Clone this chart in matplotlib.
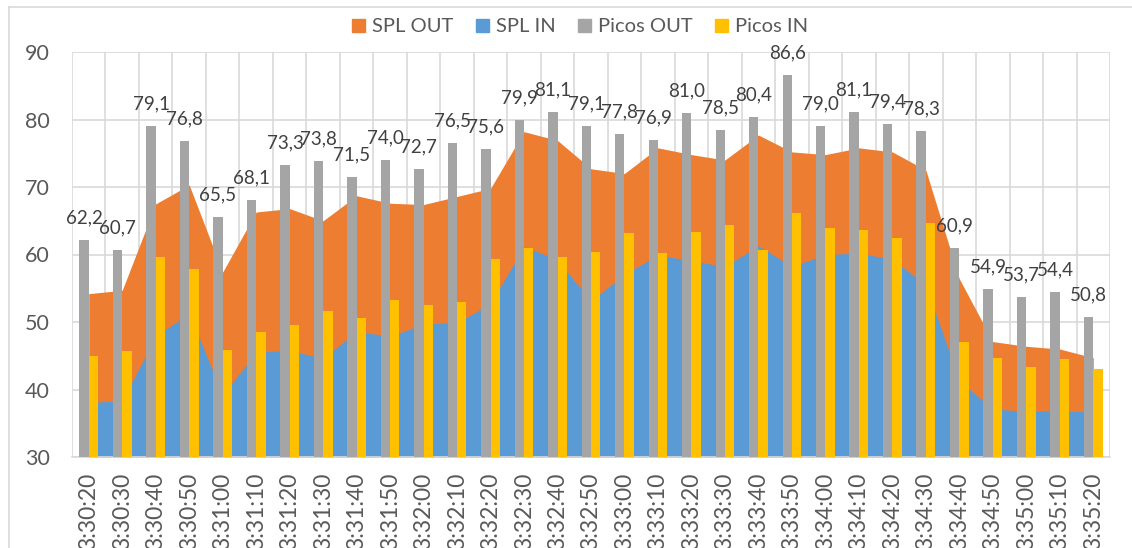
import numpy as np
import matplotlib
matplotlib.use("Agg")
from matplotlib import pyplot as plt
from matplotlib.patches import Patch
from matplotlib.lines import Line2D

plt.rcParams['font.family'] = ['Lato', 'DejaVu Sans']

times = ["3:30:20", "3:30:30", "3:30:40", "3:30:50", "3:31:00", "3:31:10", "3:31:20",
         "3:31:30", "3:31:40", "3:31:50", "3:32:00", "3:32:10", "3:32:20", "3:32:30",
         "3:32:40", "3:32:50", "3:33:00", "3:33:10", "3:33:20", "3:33:30", "3:33:40",
         "3:33:50", "3:34:00", "3:34:10", "3:34:20", "3:34:30", "3:34:40", "3:34:50",
         "3:35:00", "3:35:10", "3:35:20"]

spl_out = [54.2, 54.7, 67.5, 70.3, 57.4, 66.3, 66.8, 65.0, 68.7, 67.6, 67.4, 68.6, 69.8,
           78.2, 76.9, 72.7, 72.0, 75.8, 74.8, 74.0, 77.7, 75.2, 74.8, 75.8, 75.2, 72.5,
           56.4, 47.1, 46.4, 46.0, 44.7]
spl_in = [38.1, 38.3, 47.9, 51.3, 39.2, 45.5, 45.8, 44.6, 48.6, 47.9, 49.7, 49.9, 52.7,
          61.2, 59.2, 53.1, 57.1, 59.9, 59.1, 58.2, 61.3, 58.2, 60.0, 60.2, 59.3, 55.5,
          41.3, 37.1, 36.8, 36.8, 36.7]
picos_out = [62.2, 60.7, 79.1, 76.8, 65.5, 68.1, 73.3, 73.8, 71.5, 74.0, 72.7, 76.5, 75.6,
             79.9, 81.1, 79.1, 77.8, 76.9, 81.0, 78.5, 80.4, 86.6, 79.0, 81.1, 79.4, 78.3,
             60.9, 54.9, 53.7, 54.4, 50.8]
picos_in = [45.0, 45.7, 59.6, 57.8, 45.9, 48.5, 49.6, 51.7, 50.6, 53.2, 52.5, 52.9, 59.4,
            61.0, 59.7, 60.3, 63.2, 60.2, 63.3, 64.4, 60.7, 66.2, 63.9, 63.6, 62.5, 64.6,
            47.1, 44.6, 43.3, 44.5, 43.1]

ORANGE = '#ED7D31'
BLUE = '#5B9BD5'
GRAY = '#A5A5A5'
YELLOW = '#FFC000'
GRID = '#D9D9D9'
TEXT = '#595959'

x = np.arange(len(times))
w = 0.28

fig = plt.figure(figsize=(11.32, 5.48), dpi=100)
ax = fig.add_axes([72 / 1132, 1 - 457 / 548, (1110 - 72) / 1132, (457 - 52) / 548])

ax.fill_between(x, 30, spl_out, color=ORANGE, linewidth=0, zorder=1)
ax.fill_between(x, 30, spl_in, color=BLUE, linewidth=0, zorder=2)
ax.bar(x - w / 2, np.array(picos_out) - 30, w, bottom=30, color=GRAY, zorder=3)
ax.bar(x + w / 2, np.array(picos_in) - 30, w, bottom=30, color=YELLOW, zorder=3)

# data labels on Picos OUT
for xi, v in zip(x, picos_out):
    ax.annotate(f"{v:.1f}".replace('.', ','), (xi - w / 2, v), xytext=(0, 12),
                textcoords='offset points', ha='center', va='baseline',
                fontsize=13.5, color='#404040', zorder=5)

ax.set_xlim(-0.5, len(times) - 0.5)
ax.set_ylim(30, 90)
ax.set_yticks(range(30, 91, 10))
ax.set_xticks(x)
ax.set_xticklabels(times, rotation=90, va='top', ha='center', fontsize=16.5)
ax.set_xticks(np.arange(-0.5, len(times), 1), minor=True)
ax.tick_params(axis='both', which='both', length=0, colors=TEXT)
ax.tick_params(axis='y', pad=16, labelsize=15.5)
ax.tick_params(axis='x', pad=11)
ax.grid(axis='y', which='major', color=GRID, linewidth=1.2, zorder=0)
ax.grid(axis='x', which='minor', color=GRID, linewidth=1.2, zorder=0)
ax.set_axisbelow(True)
for s in ['top', 'right', 'left']:
    ax.spines[s].set_visible(False)
ax.spines['bottom'].set_color(GRID)
ax.spines['bottom'].set_linewidth(1.2)

handles = [Patch(color=ORANGE, label='SPL OUT'), Patch(color=BLUE, label='SPL IN'),
           Patch(color=GRAY, label='Picos OUT'), Patch(color=YELLOW, label='Picos IN')]
fig.legend(handles=handles, loc='center', bbox_to_anchor=(580 / 1132, 1 - 27 / 548),
           ncol=4, frameon=False, fontsize=14.5, handlelength=0.65, handleheight=0.65,
           handletextpad=0.35, columnspacing=1.1, labelcolor=TEXT)

# chart frame
fig.add_artist(Line2D([9 / 1132, 1], [1 - 7 / 548, 1 - 7 / 548], color=GRID, linewidth=1.2))
fig.add_artist(Line2D([9 / 1132, 9 / 1132], [0, 1 - 7 / 548], color=GRID, linewidth=1.2))

fig.savefig('out.png', dpi=100)
